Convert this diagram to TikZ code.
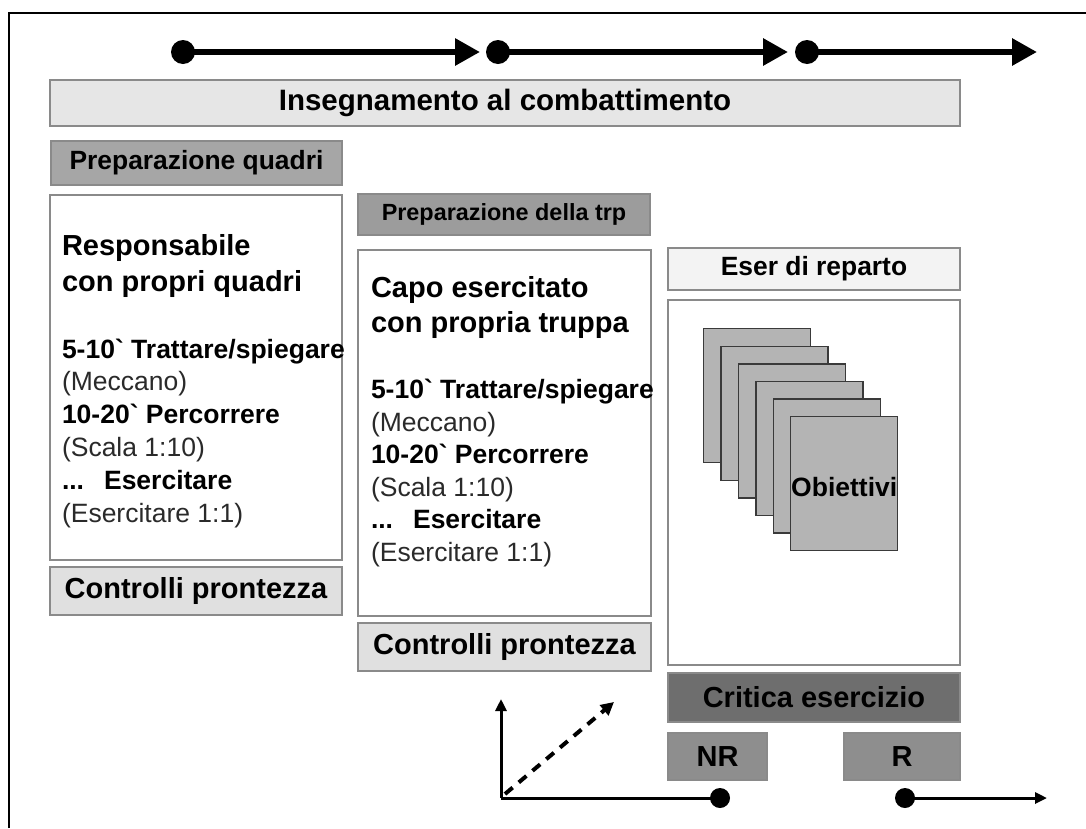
\documentclass[tikz,border=0pt]{standalone}
\usepackage{fontspec}
\setmainfont{Liberation Sans}[Ligatures=TeXOff]
\usetikzlibrary{arrows.meta}
\definecolor{bordergray}{HTML}{8A8A8A}
\definecolor{fillins}{HTML}{E6E6E6}
\definecolor{fillprep}{HTML}{A6A6A6}
\definecolor{filltrp}{HTML}{9C9C9C}
\definecolor{fillctrl}{HTML}{E0E0E0}
\definecolor{filleser}{HTML}{F3F3F3}
\definecolor{fillcrit}{HTML}{6E6E6E}
\definecolor{fillnr}{HTML}{8E8E8E}
\definecolor{pagefill}{HTML}{B4B4B4}
\definecolor{pageborder}{HTML}{3A3A3A}
\definecolor{regtext}{HTML}{2A2A2A}
\tikzset{
  box/.style={draw=bordergray, line width=1.3pt, inner sep=0pt, outer sep=0pt, align=center},
  ttl/.style={font=\fontsize{29}{34}\selectfont\bfseries},
  ln/.style={anchor=base west, inner sep=0pt, outer sep=0pt},
  lb/.style={ln, font=\fontsize{26.5}{30}\selectfont\bfseries},
  lr/.style={ln, text=regtext, font=\fontsize{26.5}{30}\selectfont},
  lt/.style={ln, font=\fontsize{29}{34}\selectfont\bfseries},
  pagebox/.style={draw=pageborder, fill=pagefill, line width=1.3pt, minimum width=107pt, minimum height=134pt, anchor=north west, inner sep=0pt},
  bigdot/.style={circle, fill=black, inner sep=0pt, minimum size=24pt},
  smalldot/.style={circle, fill=black, inner sep=0pt, minimum size=20pt},
  toparrow/.style={line width=6pt, -{Triangle[length=25pt,width=26pt]}},
  botarrow/.style={line width=3pt, -{Triangle[length=12pt,width=11pt]}},
  dasharrow/.style={line width=4pt, dash pattern=on 10pt off 8pt, -{Triangle[length=13pt,width=13pt]}},
}
\begin{document}
\begin{tikzpicture}[x=1pt,y=-1pt]
\useasboundingbox (0,0) rectangle (1086,828);
\fill[white] (0,0) rectangle (1086,828);
% frame
\draw[line width=2pt] (8.5,828) -- (8.5,12.5) -- (1086,12.5);

% top timeline
\node[bigdot] (t1) at (183,52) {};
\node[bigdot] (t2) at (498,52) {};
\node[bigdot] (t3) at (807,52) {};
\coordinate (e1) at (480,52);
\coordinate (e2) at (788,52);
\coordinate (e3) at (1037,52);
\draw[toparrow] (t1.center) -- (e1);
\draw[toparrow] (t2.center) -- (e2);
\draw[toparrow] (t3.center) -- (e3);

% header
\node[box, fill=fillins, font=\fontsize{29.5}{34}\selectfont\bfseries, minimum width=910pt, minimum height=46pt] (ins) at (505,103) {Insegnamento al combattimento};

% left column
\node[box, fill=fillprep, font=\fontsize{26.4}{30}\selectfont\bfseries, minimum width=291pt, minimum height=44pt] (pq) at (196.5,163) {Preparazione quadri};
\node[box, fill=white, minimum width=292pt, minimum height=365pt] (lbox) at (196,377.5) {};
\node[box, ttl, fill=fillctrl, minimum width=292pt, minimum height=48pt] (lcp) at (196,591) {Controlli prontezza};

\node[lt] (l1) at (62,255.5) {Responsabile};
\node[lt] (l2) at (62,291.5) {con propri quadri};
\node[lb] (l3) at (62,358) {5-10\symbol{96} Trattare/spiegare};
\node[lr] (l4) at (62,390.8) {(Meccano)};
\node[lb] (l5) at (62,423.6) {10-20\symbol{96} Percorrere};
\node[lr] (l6) at (62,456.4) {(Scala 1:10)};
\node[lb] (l7) at (62,489.2) {...\hspace{20pt}Esercitare};
\node[lr] (l8) at (62,522) {(Esercitare 1:1)};

% middle column
\node[box, fill=filltrp, font=\fontsize{23.4}{28}\selectfont\bfseries, minimum width=292pt, minimum height=41pt] (ptrp) at (504,214.5) {Preparazione della trp};
\node[box, fill=white, minimum width=293pt, minimum height=366pt] (mbox) at (504.5,433) {};
\node[box, ttl, fill=fillctrl, minimum width=293pt, minimum height=48pt] (mcp) at (504.5,647) {Controlli prontezza};

\node[lt] (m1) at (371,297.5) {Capo esercitato};
\node[lt] (m2) at (371,332.5) {con propria truppa};
\node[lb] (m3) at (371,398.5) {5-10\symbol{96} Trattare/spiegare};
\node[lr] (m4) at (371,431.1) {(Meccano)};
\node[lb] (m5) at (371,463.7) {10-20\symbol{96} Percorrere};
\node[lr] (m6) at (371,496.3) {(Scala 1:10)};
\node[lb] (m7) at (371,528.9) {...\hspace{20pt}Esercitare};
\node[lr] (m8) at (371,561.5) {(Esercitare 1:1)};

% right column
\node[box, fill=filleser, font=\fontsize{26.4}{30}\selectfont\bfseries, minimum width=292pt, minimum height=42pt] (eser) at (814,269) {Eser di reparto};
\node[box, fill=white, minimum width=292pt, minimum height=365pt] (rbox) at (814,482.5) {};
\foreach \i in {0,...,5} {
  \node[pagebox] (p\i) at ({703+17.4*\i},{328+17.6*\i}) {};
}
\node[anchor=west, inner sep=0pt, font=\fontsize{26.5}{30}\selectfont\bfseries] (obj) at (791,487) {Obiettivi};
\node[box, ttl, fill=fillcrit, minimum width=292pt, minimum height=49pt] (crit) at (814,697.5) {Critica esercizio};
\node[box, ttl, fill=fillnr, minimum width=99pt, minimum height=47pt] (nr) at (717.5,756.5) {NR};
\node[box, ttl, fill=fillnr, minimum width=116pt, minimum height=47pt] (r) at (902,756.5) {R};

% bottom axes
\coordinate (o) at (501,798);
\coordinate (vt) at (501,699);
\coordinate (dst) at (505,794);
\coordinate (dtip) at (614,702);
\node[smalldot] (d1) at (720,798) {};
\node[smalldot] (d2) at (905,798) {};
\coordinate (bend) at (1047,798);
\draw[botarrow] (o) -- (vt);
\draw[line width=3pt] (o) -- (d1.center);
\draw[dasharrow] (dst) -- (dtip);
\draw[botarrow] (d2.center) -- (bend);
\end{tikzpicture}
\end{document}
